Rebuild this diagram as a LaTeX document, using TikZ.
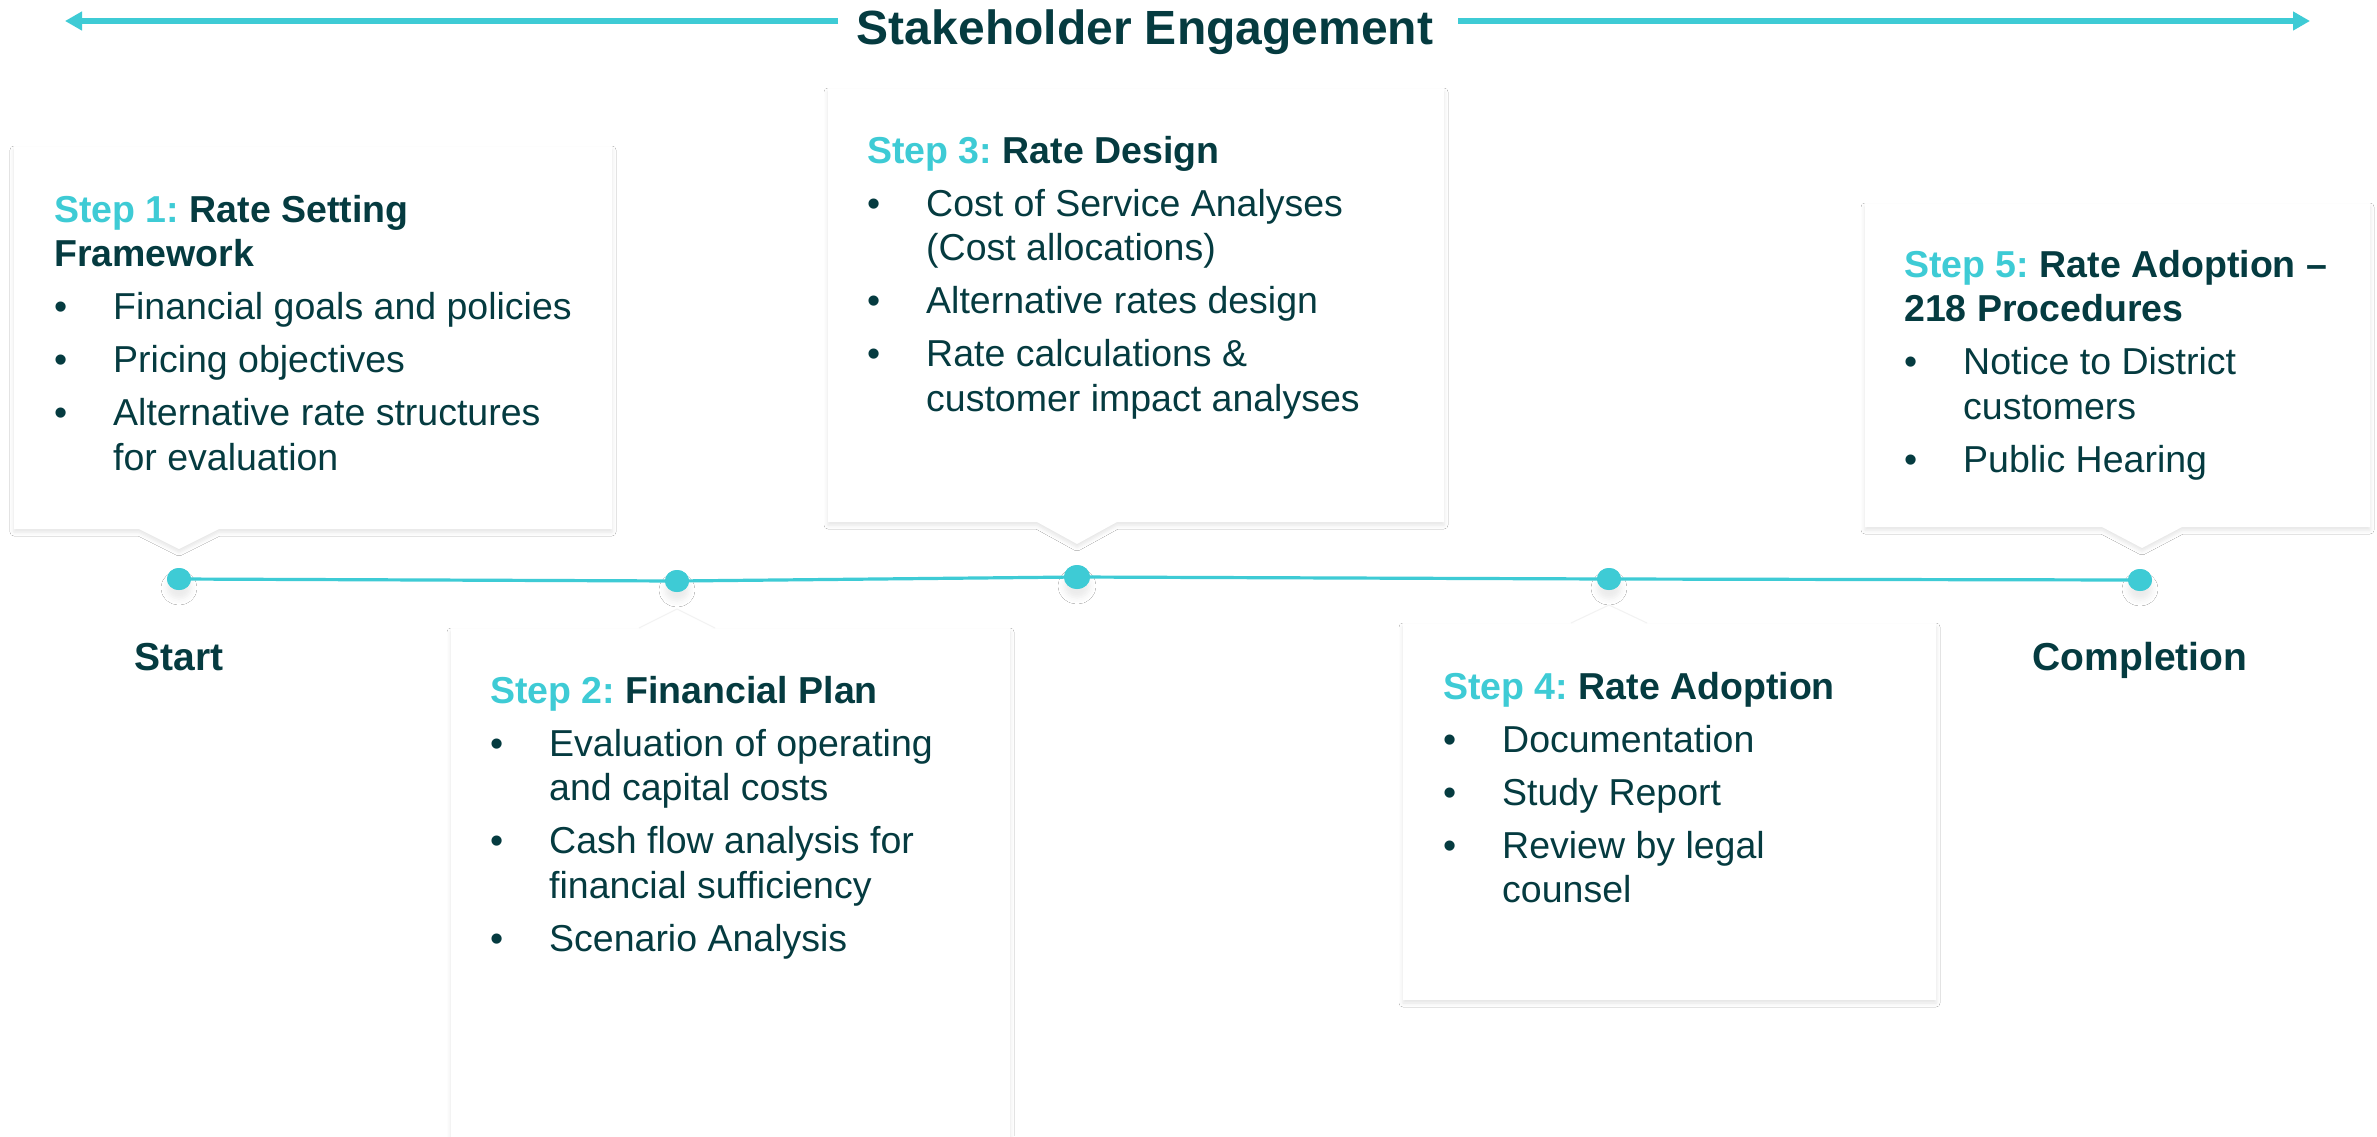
\documentclass[tikz,border=0pt]{standalone}
\usepackage{fontspec}
\setmainfont{Liberation Sans}
\usetikzlibrary{shadows.blur,arrows.meta,shapes.geometric}
\definecolor{tl}{HTML}{3ECBD5}
\definecolor{dk}{HTML}{053B40}
\newcommand{\hd}[2]{\noindent\textbf{\textcolor{tl}{#1} #2}\par}
\newcommand{\bl}[1]{\hangindent=59pt\hangafter=1\noindent\makebox[59pt][l]{\textbullet}#1\par}
\newcommand{\bxset}{\fontsize{37.5}{44.5}\selectfont\frenchspacing\spaceskip=0pt\xspaceskip=0pt\setlength{\parskip}{8.5pt}\setlength{\parindent}{0pt}}
\tikzset{
  card/.style={fill=white, draw=none, blur shadow={shadow xshift=0pt, shadow yshift=-3pt, shadow blur radius=4pt, shadow opacity=11}},
  uptip/.style={fill=white, draw=black!5, line width=1pt},
  tdot/.style={ellipse, fill=tl, inner sep=0pt, minimum width=24pt, minimum height=22pt, blur shadow={shadow xshift=0pt, shadow yshift=-9pt, shadow blur radius=6pt, shadow opacity=8}},
  boxtext/.style={anchor=base west, inner sep=0pt, text width=600pt, text=dk},
  endlabel/.style={anchor=base, inner sep=0pt, text=dk, font=\bfseries\fontsize{39}{46}\selectfont},
  tline/.style={draw=tl, line width=3.2pt},
  sarrow/.style={draw=tl, line width=6pt, -{Triangle[length=17pt,width=18pt]}},
}
\begin{document}
\begin{tikzpicture}[x=1pt, y=-1pt]
\useasboundingbox (0,0) rectangle (2377,1136);
\fill[white] (0,0) rectangle (2377,1136);

% title and arrows
\node[anchor=base, inner sep=0pt, text=dk, font=\bfseries\fontsize{48}{56}\selectfont] (title) at (1145,44) {Stakeholder Engagement};
\coordinate (l0) at (838,21);
\coordinate (l1) at (65,21);
\coordinate (r0) at (1458,21);
\coordinate (r1) at (2310,21);
\draw[sarrow] (l0) -- (l1);
\draw[sarrow] (r0) -- (r1);

% cards
\path[card] (14,147) -- (612,147) -- (612,529) -- (219,529) -- (179,549) -- (139,529) -- (14,529) -- cycle;
\path[card] (828,89) -- (1444,89) -- (1444,522) -- (1117,522) -- (1077,544) -- (1037,522) -- (828,522) -- cycle;
\path[card] (1865,204) -- (2370,204) -- (2370,527) -- (2182,527) -- (2142,548) -- (2102,527) -- (1865,527) -- cycle;
\path[card] (451,629) rectangle (1010,1160);
\path[card] (1403,624) rectangle (1936,1000);
\path[uptip] (639,628) -- (677,609) -- (715,628);
\fill[white] (641,629) -- (677,611) -- (713,629) -- cycle;
\path[uptip] (1571,623) -- (1609,605) -- (1647,623);
\fill[white] (1573,624) -- (1609,607) -- (1645,624) -- cycle;

% timeline
\node[tdot] (d1) at (179,579) {};
\node[tdot] (d2) at (677,581) {};
\node[tdot, minimum width=26pt, minimum height=24pt] (d3) at (1077,577) {};
\node[tdot] (d4) at (1609,579) {};
\node[tdot] (d5) at (2140,580) {};
\draw[tline] (d1.center) -- (d2.center) -- (d3.center) -- (d4.center) -- (d5.center);
\foreach \d in {d1,d2,d4,d5} \fill[tl] (\d) ellipse (12pt and 11pt);
\fill[tl] (d3) ellipse (13pt and 12pt);

\node[endlabel] (start) at (179,670) {Start};
\node[endlabel] (compl) at (2140,670) {Completion};

% texts
\node[boxtext] (t1) at (54,222) {\bxset
\hd{Step 1:}{Rate Setting\newline Framework}
\bl{Financial goals and policies}
\bl{Pricing objectives}
\bl{Alternative rate structures\newline for evaluation}};

\node[boxtext] (t2) at (490,703) {\bxset
\hd{Step 2:}{Financial Plan}
\bl{Evaluation of operating\newline and capital costs}
\bl{Cash flow analysis for\newline financial sufficiency}
\bl{Scenario Analysis}};

\node[boxtext] (t3) at (867,163) {\bxset
\hd{Step 3:}{Rate Design}
\bl{Cost of Service Analyses\newline (Cost allocations)}
\bl{Alternative rates design}
\bl{Rate calculations \&\newline customer impact analyses}};

\node[boxtext] (t4) at (1443,699) {\bxset
\hd{Step 4:}{Rate Adoption}
\bl{Documentation}
\bl{Study Report}
\bl{Review by legal\newline counsel}};

\node[boxtext] (t5) at (1904,277) {\bxset
\hd{Step 5:}{Rate Adoption –\newline 218 Procedures}
\bl{Notice to District\newline customers}
\bl{Public Hearing}};
\end{tikzpicture}
\end{document}
